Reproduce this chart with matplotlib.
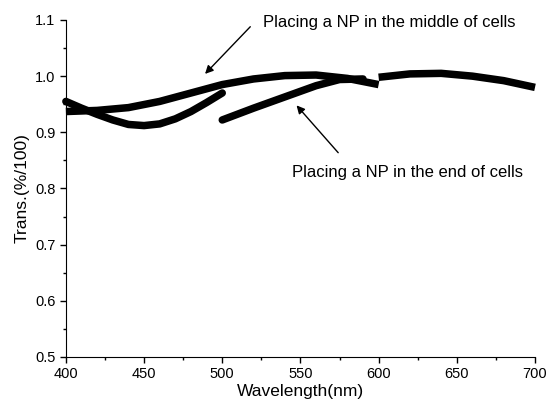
import matplotlib
matplotlib.use("Agg")
import matplotlib.pyplot as plt
from matplotlib import font_manager

names = {f.name for f in font_manager.fontManager.ttflist}
narrow = 'Liberation Sans Narrow' if 'Liberation Sans Narrow' in names else 'Liberation Sans'
plt.rcParams['font.family'] = ['Liberation Sans', 'DejaVu Sans']

# middle-of-cells curve
mid1_x = [400, 420, 440, 460, 480, 500, 520, 540, 560, 580, 600]
mid1_y = [0.937, 0.939, 0.944, 0.955, 0.970, 0.985, 0.995, 1.001, 1.002, 0.996, 0.985]
mid2_x = [600, 620, 640, 660, 680, 700]
mid2_y = [0.998, 1.004, 1.005, 1.000, 0.992, 0.980]

# end-of-cells curve
end1_x = [400, 410, 420, 430, 440, 450, 460, 470, 480, 490, 500]
end1_y = [0.955, 0.943, 0.932, 0.922, 0.914, 0.912, 0.915, 0.924, 0.937, 0.953, 0.970]
end2_x = [500, 520, 540, 560, 575, 590]
end2_y = [0.922, 0.943, 0.963, 0.983, 0.994, 0.995]

fig = plt.figure(figsize=(5.49, 4.12), dpi=100)
ax = fig.add_axes([0.120, 0.1335, 0.8545, 0.818])

for xs, ys, cap in [(mid1_x, mid1_y, 'butt'), (mid2_x, mid2_y, 'butt'),
                    (end1_x, end1_y, 'round'), (end2_x, end2_y, 'round')]:
    ax.plot(xs, ys, color='black', lw=5.4, solid_capstyle=cap, solid_joinstyle='round',
            clip_on=False)

ax.set_xlim(400, 700)
ax.set_ylim(0.5, 1.1)
ax.set_xticks([400, 450, 500, 550, 600, 650, 700])
ax.set_yticks([0.5, 0.6, 0.7, 0.8, 0.9, 1.0, 1.1])
ax.set_xticks(range(425, 700, 50), minor=True)
ax.set_yticks([0.55, 0.65, 0.75, 0.85, 0.95, 1.05], minor=True)
ax.spines['top'].set_visible(False)
ax.spines['right'].set_visible(False)
ax.tick_params(direction='out', length=4, width=1, labelsize=10.5)
ax.tick_params(which='minor', direction='out', length=2, width=1)
ax.set_xlabel('Wavelength(nm)', fontsize=12.5, family=[narrow, 'DejaVu Sans'], labelpad=2)
ax.set_ylabel('Trans.(%/100)', fontsize=12.5, family=[narrow, 'DejaVu Sans'], labelpad=4)

ax.annotate('Placing a NP in the middle of cells', xy=(489, 1.004), xytext=(526, 1.096),
            fontsize=12, family=[narrow, 'DejaVu Sans'], va='center', ha='left',
            arrowprops=dict(arrowstyle='-|>', color='black', lw=1, shrinkA=0, shrinkB=0,
                            relpos=(-0.05, 0.2)),
            annotation_clip=False)
ax.annotate('Placing a NP in the end of cells', xy=(547.5, 0.948), xytext=(544.6, 0.829),
            fontsize=12, family=[narrow, 'DejaVu Sans'], va='center', ha='left',
            arrowprops=dict(arrowstyle='-|>', color='black', lw=1, shrinkA=0, shrinkB=0,
                            relpos=(0.2, 1.8)),
            annotation_clip=False)

fig.savefig('out.png', dpi=100)
